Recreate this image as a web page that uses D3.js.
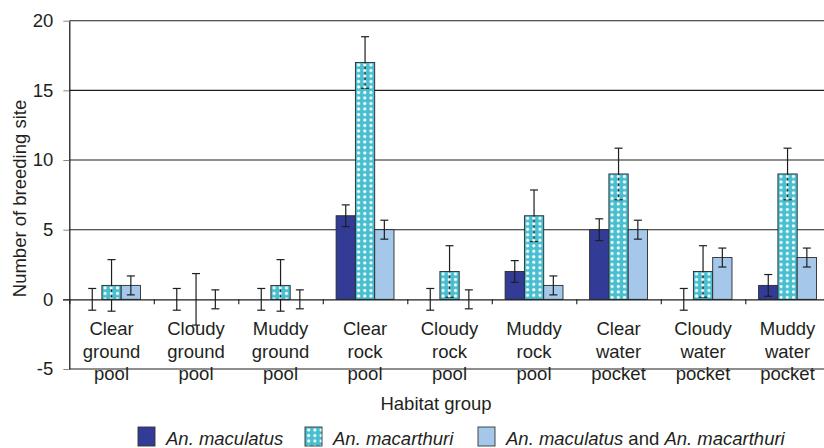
<!DOCTYPE html>
<html>
<head>
<meta charset="utf-8">
<script src="https://cdn.jsdelivr.net/npm/d3@7"></script>
<style>
  body { margin: 0; background: #fff; }
  svg { display: block; }
  text { font-family: "Liberation Sans", Arial, sans-serif; fill: #231f20; }
</style>
</head>
<body>
<svg id="chart" width="824" height="448"></svg>
<script>
// Habitat groups (each word goes on its own line under the axis)
const categories = [
  "Clear ground pool", "Cloudy ground pool", "Muddy ground pool",
  "Clear rock pool", "Cloudy rock pool", "Muddy rock pool",
  "Clear water pocket", "Cloudy water pocket", "Muddy water pocket"
];
const seriesKeys = ["maculatus", "macarthuri", "both"];

// Number of breeding sites per habitat group
const maculatus  = [0, 0, 0, 6, 0, 2, 5, 0, 1];
const macarthuri = [1, 0, 1, 17, 2, 6, 9, 2, 9];
const both       = [1, 0, 0, 5, 0, 1, 5, 3, 3];

// Error bar half-lengths
const maculatusErr  = [0.78, 0.78, 0.78, 0.78, 0.78, 0.78, 0.78, 0.78, 0.78];
const macarthuriErr = [1.85, 1.85, 1.85, 1.85, 1.85, 1.85, 1.85, 1.85, 1.85];
const bothErr       = [0.68, 0.68, 0.68, 0.68, 0.68, 0.68, 0.68, 0.68, 0.68];

const yTicks = [-5, 0, 5, 10, 15, 20];
const yTitle = "Number of breeding site";
const xTitle = "Habitat group";

const colors = { maculatus: "#323c97", macarthuri: "#48bfd0", both: "#a5c8ea" };
const ink = "#1e1e1e";

const values = { maculatus, macarthuri, both };
const errors = { maculatus: maculatusErr, macarthuri: macarthuriErr, both: bothErr };

const svg = d3.select("#chart");
svg.append("rect").attr("width", 824).attr("height", 448).attr("fill", "#fff");

const defs = svg.append("defs");
const pat = defs.append("pattern")
  .attr("id", "dots").attr("patternUnits", "userSpaceOnUse")
  .attr("width", 6.2).attr("height", 5.5);
pat.append("circle").attr("cx", 3.2).attr("cy", 2.6).attr("r", 1.6).attr("fill", "#fff");

const y = d3.scaleLinear().domain([-5, 20]).range([369, 20.7]);
const x0 = d3.scaleBand().domain(categories).range([69.3, 829.8]).paddingInner(0).paddingOuter(0);
const x1 = d3.scaleBand().domain(seriesKeys).range([0, x0.bandwidth()]).paddingInner(0).paddingOuter(0.69);
const xIdx = d3.scaleLinear().domain([0, categories.length]).range(x0.range());

// Horizontal gridlines (the zero line is the category axis)
svg.append("g").selectAll("line")
  .data(yTicks.filter(d => d !== 0))
  .join("line")
  .attr("x1", 69.3).attr("x2", 830)
  .attr("y1", d => y(d)).attr("y2", d => y(d))
  .attr("stroke", ink).attr("stroke-width", 1.1);

// Value axis
const yAxis = svg.append("g")
  .attr("transform", "translate(69.3,0)")
  .call(d3.axisLeft(y).tickValues(yTicks).tickFormat(d => String(d))
    .tickSize(6).tickSizeOuter(0).tickPadding(10));
yAxis.select(".domain").attr("stroke", ink).attr("stroke-width", 1.3);
yAxis.selectAll(".tick line").attr("stroke", "#888").attr("stroke-width", 1);
yAxis.selectAll(".tick text")
  .style("font-size", "18.5px").attr("fill", "#231f20")
  .style("font-family", "'Liberation Sans', Arial, sans-serif");

// Bars
const groups = svg.append("g").selectAll("g")
  .data(categories)
  .join("g")
  .attr("transform", d => `translate(${x0(d)},0)`);

const barData = (c, i) => seriesKeys.map(k => ({ key: k, v: values[k][i], e: errors[k][i] }));

groups.each(function(c, i) {
  const g = d3.select(this);
  barData(c, i).forEach(b => {
    if (b.v === 0) return;
    g.append("rect")
      .attr("x", x1(b.key)).attr("width", x1.bandwidth())
      .attr("y", y(Math.max(b.v, 0))).attr("height", Math.abs(y(b.v) - y(0)))
      .attr("fill", colors[b.key]).attr("stroke", "#2a2a2a").attr("stroke-width", 0.9);
  });
});

// Category axis along zero, with ticks between groups
const xAxis = svg.append("g")
  .attr("transform", `translate(0,${y(0)})`)
  .call(d3.axisBottom(xIdx).ticks(categories.length).tickFormat("").tickSize(5).tickSizeOuter(0));
xAxis.select(".domain").attr("stroke", ink).attr("stroke-width", 1.2).attr("d", "M63,0.5H830");
xAxis.selectAll(".tick line").attr("stroke", ink).attr("stroke-width", 1.1);

// Error bars
groups.each(function(c, i) {
  const g = d3.select(this);
  barData(c, i).forEach(b => {
    const cx = x1(b.key) + x1.bandwidth() / 2;
    const eg = g.append("g").attr("stroke", ink).attr("stroke-width", 1.2);
    eg.append("line").attr("x1", cx).attr("x2", cx).attr("y1", y(b.v + b.e)).attr("y2", y(b.v - b.e));
    eg.append("line").attr("x1", cx - 4).attr("x2", cx + 4).attr("y1", y(b.v + b.e)).attr("y2", y(b.v + b.e));
    eg.append("line").attr("x1", cx - 4).attr("x2", cx + 4).attr("y1", y(b.v - b.e)).attr("y2", y(b.v - b.e));
  });
});

// White dot pattern over the An. macarthuri bars
groups.each(function(c, i) {
  const v = macarthuri[i];
  if (v === 0) return;
  const bx = x1("macarthuri");
  const top = y(Math.max(v, 0));
  d3.select(this).append("g")
    .attr("transform", `translate(${bx},${top})`)
    .append("rect")
    .attr("x", 0.6).attr("y", 0.6)
    .attr("width", x1.bandwidth() - 1.2).attr("height", Math.abs(y(v) - y(0)) - 1.2)
    .attr("fill", "url(#dots)");
});

// Category labels
const baselines = [335, 357.5, 380];
svg.append("g").selectAll("text")
  .data(categories)
  .join("text")
  .attr("text-anchor", "middle")
  .style("font-size", "18.5px")
  .each(function(c) {
    const t = d3.select(this);
    c.split(" ").forEach((w, j) => {
      t.append("tspan").attr("x", x0(c) + x0.bandwidth() / 2).attr("y", baselines[j]).text(w);
    });
  });

// Axis titles
svg.append("text")
  .attr("transform", "translate(26,198.5) rotate(-90)")
  .attr("text-anchor", "middle").style("font-size", "18.5px")
  .text(yTitle);
svg.append("text")
  .attr("x", 436).attr("y", 410)
  .attr("text-anchor", "middle").style("font-size", "18.5px")
  .text(xTitle);

// Legend
const legendItems = [
  { key: "maculatus", x: 138, parts: [["An. maculatus", true]] },
  { key: "macarthuri", x: 305, parts: [["An. macarthuri", true]] },
  { key: "both", x: 478, parts: [["An. maculatus", true], [" and ", false], ["An. macarthuri", true]] }
];
const lg = svg.append("g");
legendItems.forEach(it => {
  lg.append("rect")
    .attr("x", it.x).attr("y", 427).attr("width", 17).attr("height", 19)
    .attr("fill", colors[it.key]).attr("stroke", "#333").attr("stroke-width", 0.9);
  if (it.key === "macarthuri") {
    lg.append("g").attr("transform", `translate(${it.x + 0.5},427.5)`)
      .append("rect").attr("width", 16).attr("height", 18).attr("fill", "url(#dots)");
  }
  const t = lg.append("text").attr("x", it.x + 28).attr("y", 445).style("font-size", "18.5px")
    .attr("xml:space", "preserve");
  it.parts.forEach(([s, ital]) => {
    t.append("tspan").style("font-style", ital ? "italic" : "normal").text(s);
  });
});
</script>
</body>
</html>
